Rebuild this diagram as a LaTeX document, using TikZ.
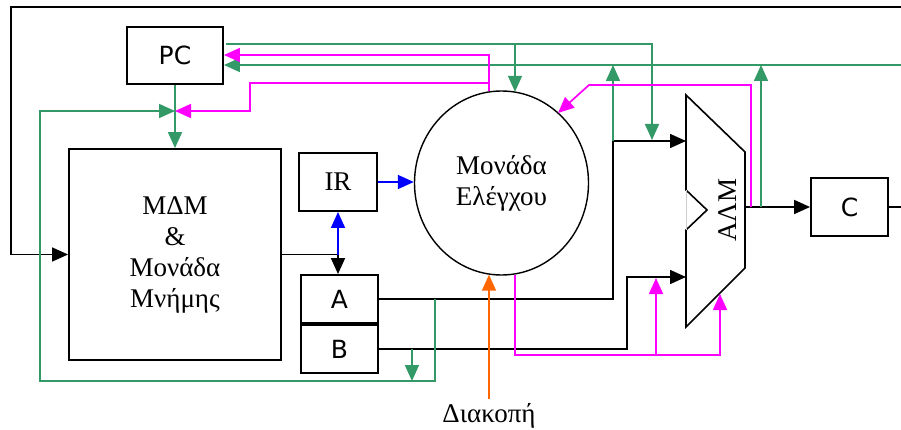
\documentclass[tikz,border=0pt]{standalone}
\usepackage{fontspec}
\setmainfont{Liberation Serif}
\newfontfamily\regfont{DejaVu Sans}
\usepackage{tikz}
\usetikzlibrary{arrows.meta,positioning,shapes.geometric,calc}
\definecolor{busgreen}{RGB}{51,153,102}
\definecolor{ctlmag}{RGB}{255,0,255}
\definecolor{intorange}{RGB}{255,102,0}

\begin{document}
\begin{tikzpicture}[x=1pt,y=-1pt,
  >={Triangle[length=16pt,width=14pt]},
  reg/.style={draw,line width=1.9pt,inner sep=0pt,font=\regfont\fontsize{25}{30}\selectfont},
  serif/.style={font=\fontsize{27}{31}\selectfont,align=center},
  blk/.style={line width=1.6pt,black},
  grn/.style={line width=1.7pt,busgreen},
  mag/.style={line width=1.7pt,ctlmag},
  blu/.style={line width=1.7pt,blue},
  org/.style={line width=1.7pt,intorange}]
  \useasboundingbox (0,0) rectangle (901,430);

  \node[reg,minimum width=96pt,minimum height=57pt] (pc) at (175,55.5) {PC};
  \node[reg,serif,minimum width=212pt,minimum height=211pt] (mdm) at (175,254.5)
    {ΜΔΜ\\\&\\Μονάδα\\Μνήμης};
  \node[reg,serif,minimum width=78pt,minimum height=58pt] (ir) at (338,182) {IR};
  \node[reg,minimum width=77pt,minimum height=48pt] (a) at (339.5,299) {A};
  \node[reg,minimum width=77pt,minimum height=48pt] (b) at (339.5,349) {B};
  \node[reg,minimum width=77pt,minimum height=58pt] (c) at (849.5,207) {C};
  \node[draw,ellipse,line width=1.4pt,inner sep=0pt,serif,
    minimum width=174pt,minimum height=184pt] (cu) at (501.5,183) {Μονάδα\\Ελέγχου};
  \node[serif,anchor=base] (intr) at (489,422) {Διακοπή};

  \draw[line width=1.6pt] (686,95) -- (745,152) -- (745,268) -- (686,327)
    -- (686,230) -- (707,210) -- (686,190) -- cycle;
  \draw[gray!40,line width=0.6pt] (686,190) -- (686,230);
  \node[serif,rotate=90] (alm) at (728,210) {ΑΛΜ};
  \coordinate (aluin1) at (686,141);
  \coordinate (aluin2) at (686,277);
  \coordinate (aluout) at (745,207);

  \coordinate (topR) at (901,7);
  \coordinate (outR) at (901,207);
  \coordinate (busR) at (901,65);
  \coordinate (jpc) at (175,111);
  \coordinate (tapA) at (613,141);
  \coordinate (tapB) at (656,355);
  \coordinate (m55) at (489,55);

  \draw[blk,->] (topR) -- (11,7) |- (mdm.west);
  \draw[blk,->] (mdm.east) -| (ir.south |- a.north);
  \draw[blk,->] (a.east) -| (tapA) -- (aluin1);
  \draw[blk,->] (b.east) -| (627,277) -- (aluin2);
  \draw[blk,->] (aluout) -- (c.west);
  \draw[blk] (c.east) -- (outR);

  \draw[blu,->] (ir.east) -- (ir.east -| cu.west);
  \draw[blu,->] (ir.south |- mdm.east) -- (ir.south);

  \draw[grn,->] (pc.south) -- (mdm.north);
  \draw[grn,->] ($(a.east)+(56,0)$) |- (40,381) |- (jpc);
  \draw[grn,->] ($(b.east)+(33,0)$) -- ++(0,32);
  \draw[grn,->] ($(pc.east)+(2,-11.5)$) -| (652,140);
  \draw[grn,->] (515,44) -- ($(cu.north)+(13.5,1.5)$);
  \draw[grn,->] (busR) -- (busR -| pc.east);
  \draw[grn,->] (tapA) -- (613,65);
  \draw[grn,->] (761,207) -- (761,65);

  \draw[mag,->] ($(cu.north)+(-12.5,0.7)$) -- (m55) -- (m55 -| pc.east);
  \draw[mag,->] (489,83) -- (250,83) |- (jpc);
  \draw[mag,->] (751,207) |- (589,85) -- ($(cu.center)+(56.5,-70)$);
  \draw[mag,->] ($(cu.south)+(13.5,-1)$) |- (720,355) -- (720,294);
  \draw[mag,->] (tapB) -- (656,278);

  \draw[org,->] (intr.north) -- ($(cu.south)+(-12.5,-1)$);
\end{tikzpicture}
\end{document}
